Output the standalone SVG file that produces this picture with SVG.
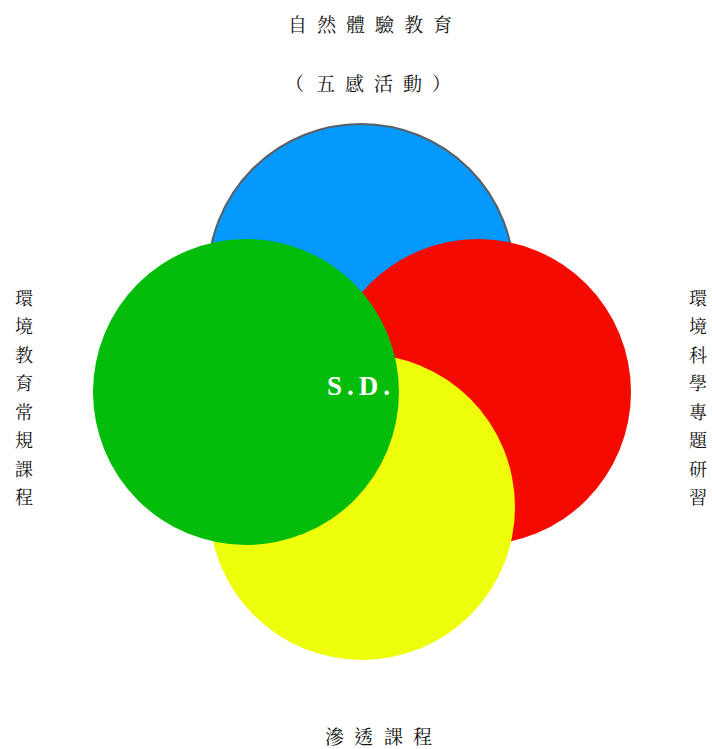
<svg xmlns="http://www.w3.org/2000/svg" width="712" height="749" viewBox="0 0 712 749">
<style>
.t{font-family:"Noto Serif CJK TC","Noto Sans CJK TC","Liberation Serif",serif;font-size:19px;fill:#111;}
.v{font-family:"Noto Serif CJK TC","Noto Sans CJK TC","Liberation Serif",serif;font-size:18px;fill:#111;text-anchor:middle;}
.sd{font-family:"Liberation Serif","DejaVu Serif",serif;font-size:27px;font-weight:bold;fill:#fff;letter-spacing:5px;}
</style>
<rect width="712" height="749" fill="#fff"/>
<g id="circle-blue"><circle cx="361" cy="277" r="153" fill="#0598fd" stroke="#5a5f66" stroke-width="2"/></g>
<g id="circle-red"><circle cx="478" cy="392" r="153" fill="#f50a02"/></g>
<g id="circle-yellow"><circle cx="362" cy="507" r="153" fill="#eefd0a"/></g>
<g id="circle-green"><circle cx="246" cy="392" r="153" fill="#04bc0a"/></g>
<g id="label-center"><text class="sd" x="327" y="395">S.D.</text></g>
<g id="label-top">
<text class="t" x="288 317 346 375 404 433" y="32">自然體驗教育</text>
<text class="t" x="285 316 345 374 403 432" y="91">（五感活動）</text>
</g>
<g id="label-left">
<text class="v" x="24" y="305">環</text>
<text class="v" x="24" y="333">境</text>
<text class="v" x="24" y="362">教</text>
<text class="v" x="24" y="390">育</text>
<text class="v" x="24" y="419">常</text>
<text class="v" x="24" y="447">規</text>
<text class="v" x="24" y="476">課</text>
<text class="v" x="24" y="504">程</text>
</g>
<g id="label-right">
<text class="v" x="698" y="305">環</text>
<text class="v" x="698" y="333">境</text>
<text class="v" x="698" y="362">科</text>
<text class="v" x="698" y="390">學</text>
<text class="v" x="698" y="419">專</text>
<text class="v" x="698" y="447">題</text>
<text class="v" x="698" y="476">研</text>
<text class="v" x="698" y="504">習</text>
</g>
<g id="label-bottom">
<text class="t" x="325 354 384 413" y="744">滲透課程</text>
</g>
</svg>
